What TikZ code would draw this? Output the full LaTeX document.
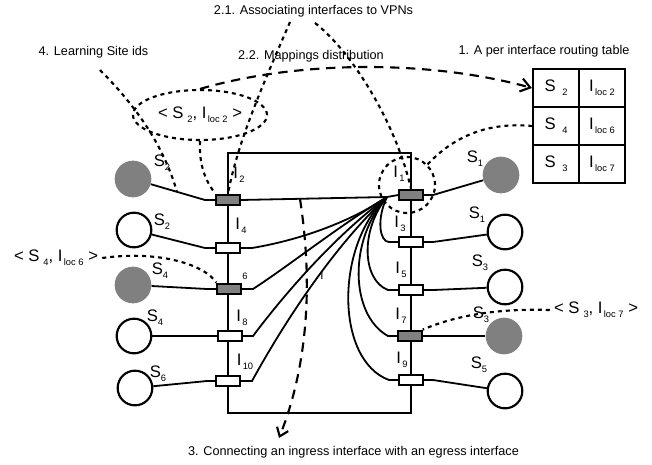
\documentclass[tikz,border=0pt]{standalone}
\usepackage{fontspec}
\setmainfont{Liberation Sans}
\usetikzlibrary{arrows.meta,shapes.geometric,calc}
\newcommand{\sbx}[3]{#1\kern#3\raisebox{-0.45ex}{\fontsize{7}{8}\selectfont #2}}
\begin{document}
\begin{tikzpicture}[x=0.75pt,y=-0.75pt,
 iface/.style={draw,line width=1.6pt,fill=white,minimum width=17.5pt,minimum height=8pt,inner sep=0pt},
 ifaceg/.style={iface,fill=gray},
 site/.style={circle,draw,line width=1.6pt,minimum size=26pt,inner sep=0pt},
 siteg/.style={circle,fill=gray,minimum size=27.5pt,inner sep=0pt},
 wire/.style={line width=1.35pt},
 dotl/.style={line width=1.6pt,dash pattern=on 3pt off 3pt},
 dashl/.style={line width=1.6pt,dash pattern=on 7pt off 5pt},
 txt/.style={font=\fontsize{9.5}{11}\selectfont,inner sep=0pt},
 big/.style={font=\fontsize{12.5}{14}\selectfont,inner sep=0pt},
 sm/.style={font=\fontsize{7}{8}\selectfont,inner sep=0pt},
 cell/.style={draw,line width=1.6pt,minimum width=34.5pt,minimum height=28.5pt,inner sep=0pt,font=\fontsize{12.5}{14}\selectfont}]
\useasboundingbox (0,0) rectangle (652,464);

% frame
\draw[line width=1.5pt] (228,153) rectangle (411,413);

% interfaces
\node[ifaceg] (i2) at (228,200) {};
\node[iface] (i4) at (228,248) {};
\node[ifaceg] (i6) at (229,289) {};
\node[iface] (i8) at (230,336) {};
\node[iface] (i10) at (228,381) {};
\node[ifaceg] (i1) at (411,195) {};
\node[iface] (i3) at (411,242) {};
\node[iface] (i5) at (411,290) {};
\node[ifaceg] (i7) at (410,336) {};
\node[iface] (i9) at (411,380) {};

% sites
\node[siteg] (s2a) at (133,179) {};
\node[site] (s2b) at (134,230) {};
\node[siteg] (s4a) at (133,285) {};
\node[site] (s4b) at (134,336) {};
\node[site] (s6) at (135,388) {};
\node[siteg] (s1a) at (501,175) {};
\node[site] (s1b) at (505,232) {};
\node[site] (s3a) at (505,287) {};
\node[siteg] (s3b) at (504,336) {};
\node[site] (s5) at (505,391) {};

% site wires
\draw[wire] (s2a) -- (205,200) -- (i2.west);
\draw[wire] (s2b) -- (205,248) -- (i4.west);
\draw[wire] (s4a) -- (207,289) -- (i6.west);
\draw[wire] (s4b) -- (i8.west);
\draw[wire] (s6) -- (207,381) -- (i10.west);
\draw[wire] (i1.east) -- (433,195) -- (s1a);
\draw[wire] (i3.east) -- (433,242) -- (s1b);
\draw[wire] (i5.east) -- (433,290) -- (s3a);
\draw[wire] (i7.east) -- (s3b);
\draw[wire] (i9.east) -- (433,380) -- (s5);

% fan
\coordinate (c) at (387,197);
\draw[wire] (i1.west) -- (c);
\draw[wire] (i2.east) -- (c);
\draw[wire] (i4.east) -- (252,248) .. controls (300,240) and (350,222) .. (c);
\draw[wire] (i6.east) -- (253,289) .. controls (290,265) and (340,225) .. (c);
\draw[wire] (i8.east) -- (253,336) .. controls (280,300) and (330,240) .. (c);
\draw[wire] (i10.east) -- (252,381) .. controls (280,330) and (330,250) .. (c);
\draw[wire] (c) .. controls (376,220) and (380,242) .. (389,242) -- (i3.west);
\draw[wire] (c) .. controls (360,230) and (362,280) .. (388,290) -- (i5.west);
\draw[wire] (c) .. controls (348,240) and (350,315) .. (388,336) -- (i7.west);
\draw[wire] (c) .. controls (335,245) and (335,360) .. (389,380) -- (i9.west);

% table
\node[cell] (t11) at (556,88) {\sbx{S}{2}{5pt}};
\node[cell] (t12) at (602,88) {\sbx{I}{loc 2}{1pt}};
\node[cell] (t21) at (556,126) {\sbx{S}{4}{5pt}};
\node[cell] (t22) at (602,126) {\sbx{I}{loc 6}{1pt}};
\node[cell] (t31) at (556,164) {\sbx{S}{3}{5pt}};
\node[cell] (t32) at (602,164) {\sbx{I}{loc 7}{1pt}};

% texts
\node[txt] (x21) at (313.5,11) {2.1. Associating interfaces to VPNs};
\node[txt] (x22) at (311,56) {2.2. Mappings distribution};
\node[txt] (x4) at (93.5,52) {4. Learning Site ids};
\node[txt] (x1) at (544,51) {1. A per interface routing table};
\node[txt] (x3) at (353.5,452) {3. Connecting an ingress interface with an egress interface};

% site labels
\node[big] (ls2a) at (162,163) {\sbx{S}{2}{0pt}};
\node[big] (ls2b) at (162,222) {\sbx{S}{2}{0pt}};
\node[big] (ls4a) at (160,271) {\sbx{S}{4}{0pt}};
\node[big] (ls4b) at (155,318) {\sbx{S}{4}{0pt}};
\node[big] (ls6) at (158,374) {\sbx{S}{6}{0pt}};
\node[big] (ls1a) at (475,159) {\sbx{S}{1}{0pt}};
\node[big] (ls1b) at (477,215) {\sbx{S}{1}{0pt}};
\node[big] (ls3a) at (480,263) {\sbx{S}{3}{0pt}};
\node[big] (ls3b) at (481,315) {\sbx{S}{3}{0pt}};
\node[big] (ls5) at (479,365) {\sbx{S}{5}{0pt}};

% interface labels
\node[big] (li2) at (239,175) {\sbx{I}{2}{1pt}};
\node[big] (li4) at (241,226) {\sbx{I}{4}{1pt}};
\node[sm] (li6) at (245,276) {6};
\node[big] (li8) at (242,318) {\sbx{I}{8}{1pt}};
\node[big] (li10) at (245,362) {\sbx{I}{10}{1pt}};
\node[big] (li1) at (399,174) {\sbx{I}{1}{1pt}};
\node[big] (li3) at (400,224) {\sbx{I}{3}{1pt}};
\node[big] (li5) at (401,270) {\sbx{I}{5}{1pt}};
\node[big] (li7) at (401,316) {\sbx{I}{7}{1pt}};
\node[big] (li9) at (402,360) {\sbx{I}{9}{1pt}};
\node[font=\fontsize{8.5}{9}\selectfont,inner sep=0pt] (lx) at (322,276) {I};

% mapping labels
\node[ellipse,draw,dotl,minimum width=100.5pt,minimum height=37.5pt,inner sep=0pt,font=\fontsize{12.5}{14}\selectfont] (e) at (200,115) {< \sbx{S}{2}{3pt}, \sbx{I}{loc 2}{1pt} >};
\node[big,inner sep=3pt] (l6) at (56,258) {< \sbx{S}{4}{3pt}, \sbx{I}{loc 6}{1pt} >};
\node[big,inner sep=3pt] (l7) at (596,310) {< \sbx{S}{3}{3pt}, \sbx{I}{loc 7}{1pt} >};
\node[circle,draw,dotl,minimum size=42pt,inner sep=0pt] (ring) at (407,185) {};

% dotted / dashed annotations
\coordinate (a1) at (290,22);
\coordinate (a2) at (315,23);
\coordinate (a4) at (100,70);
\coordinate (w2) at (177,192);
\coordinate (d0) at (300,199);
\draw[dotl] (a1) .. controls (265,80) and (238,140) .. (i2.north);
\draw[dotl] (a2) .. controls (350,50) and (395,120) .. (i1.north);
\draw[dotl] (a4) .. controls (140,110) and (165,150) .. (w2);
\draw[dotl] (e.south) .. controls (199,165) and (205,180) .. (i2.north west);
\draw[dotl] (ring.45) .. controls (455,135) and (490,122) .. (t21.west);
\draw[dotl] (l6.east) .. controls (160,250) and (205,265) .. (i6.north west);
\draw[dotl] (l7.west) .. controls (490,308) and (450,318) .. (i7.north east);
\draw[dashl,-{Straight Barb[length=7pt,width=10pt]}] (e.north) .. controls (300,60) and (430,60) .. (t11.west);
\draw[dashl,-{Straight Barb[length=6pt,width=9pt]}] (d0) .. controls (314,290) and (306,370) .. (279,438);
\end{tikzpicture}
\end{document}
